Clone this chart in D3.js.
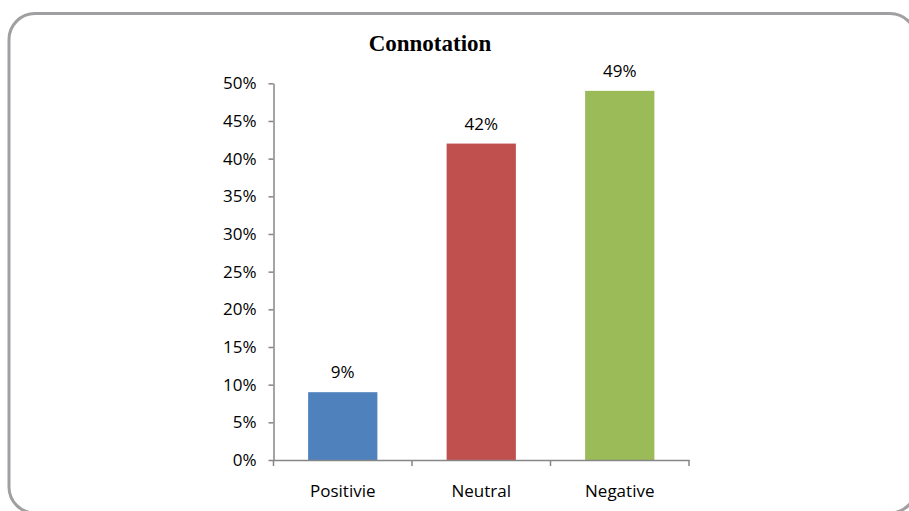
<!DOCTYPE html>
<html>
<head>
<meta charset="utf-8">
<script src="https://cdn.jsdelivr.net/npm/d3@7"></script>
<style>
  html, body { margin: 0; padding: 0; background: #fff; overflow: hidden; }
  svg { display: block; }
</style>
</head>
<body>
<svg id="chart" width="909" height="511"></svg>
<script>
// Share of mentions by connotation
const categories = ["Positivie", "Neutral", "Negative"];
const values = [0.09, 0.42, 0.49];
const barColors = ["#4f81bd", "#c0504d", "#9bbb59"];
const yTicks = [0, 0.05, 0.10, 0.15, 0.20, 0.25, 0.30, 0.35, 0.40, 0.45, 0.50];
const title = "Connotation";

const svg = d3.select("#chart");
const plot = { left: 273.5, right: 689, top: 83.3, bottom: 460 };
const axisColor = "#868686";
const labelFont = "'Open Sans', 'Liberation Sans', sans-serif";
const labelSize = 17;

// outer rounded frame: left, top and bottom-left corner visible,
// the right side runs off the page; drawn as a path so only the
// visible part is stroked
const fr = { x0: 9, y0: 13.5, x1: 916, y1: 513, r: 26 };
const framePath = d3.path();
framePath.moveTo(fr.x1, fr.y0 + fr.r);
framePath.arcTo(fr.x1, fr.y0, fr.x1 - fr.r, fr.y0, fr.r);
framePath.lineTo(fr.x0 + fr.r, fr.y0);
framePath.arcTo(fr.x0, fr.y0, fr.x0, fr.y0 + fr.r, fr.r);
framePath.lineTo(fr.x0, fr.y1 - fr.r);
framePath.arcTo(fr.x0, fr.y1, fr.x0 + fr.r, fr.y1, fr.r);
framePath.lineTo(fr.x1 - fr.r, fr.y1);
framePath.arcTo(fr.x1, fr.y1, fr.x1, fr.y1 - fr.r, fr.r);
svg.append("path")
  .attr("d", framePath.toString())
  .attr("fill", "none")
  .attr("stroke", "#a0a0a3")
  .attr("stroke-width", 3);

// title
svg.append("text")
  .attr("x", 430).attr("y", 51)
  .attr("text-anchor", "middle")
  .attr("font-family", "'Liberation Serif', 'Times New Roman', serif")
  .attr("font-weight", "bold")
  .attr("font-size", 23)
  .attr("fill", "#000")
  .text(title);

const x = d3.scaleBand()
  .domain(categories)
  .range([plot.left, plot.right])
  .paddingInner(0.5)
  .paddingOuter(0.25);

const y = d3.scaleLinear()
  .domain([0, 0.5])
  .range([plot.bottom, plot.top]);

// bars
svg.append("g").selectAll("rect")
  .data(categories)
  .join("rect")
  .attr("x", d => x(d))
  .attr("y", (d, i) => y(values[i]))
  .attr("width", x.bandwidth())
  .attr("height", (d, i) => y(0) - y(values[i]))
  .attr("fill", (d, i) => barColors[i]);

// value labels
svg.append("g").selectAll("text")
  .data(categories)
  .join("text")
  .attr("x", d => x(d) + x.bandwidth() / 2)
  .attr("y", (d, i) => y(values[i]) - 14)
  .attr("text-anchor", "middle")
  .attr("font-family", labelFont)
  .attr("font-size", labelSize)
  .attr("fill", "#000")
  .text((d, i) => d3.format(".0%")(values[i]));

// y axis
const yAxis = d3.axisLeft(y)
  .tickValues(yTicks)
  .tickFormat(d3.format(".0%"))
  .tickSize(5)
  .tickSizeOuter(0)
  .tickPadding(12);
const gy = svg.append("g")
  .attr("transform", `translate(${plot.left},0)`)
  .call(yAxis);
gy.select(".domain").attr("stroke", axisColor).attr("stroke-width", 1.5);
gy.selectAll(".tick line").attr("stroke", axisColor).attr("stroke-width", 1.5);
gy.selectAll(".tick text")
  .attr("font-family", labelFont)
  .attr("font-size", labelSize)
  .attr("fill", "#000");

// x axis with tick marks at category boundaries
const xAxis = d3.axisBottom(x).tickSize(0).tickSizeOuter(0).tickPadding(25);
const gx = svg.append("g")
  .attr("transform", `translate(0,${plot.bottom})`)
  .call(xAxis);
gx.select(".domain").attr("stroke", axisColor).attr("stroke-width", 1.5);
gx.selectAll(".tick text")
  .attr("font-family", labelFont)
  .attr("font-size", labelSize)
  .attr("fill", "#000");

const bounds = categories.map(c => x(c) - x.step() * x.paddingInner() / 2);
bounds.push(plot.right);
gx.selectAll("line.sep")
  .data(bounds)
  .join("line")
  .attr("class", "sep")
  .attr("x1", d => d).attr("x2", d => d)
  .attr("y1", 0).attr("y2", 6)
  .attr("stroke", axisColor)
  .attr("stroke-width", 1.5);
</script>
</body>
</html>
